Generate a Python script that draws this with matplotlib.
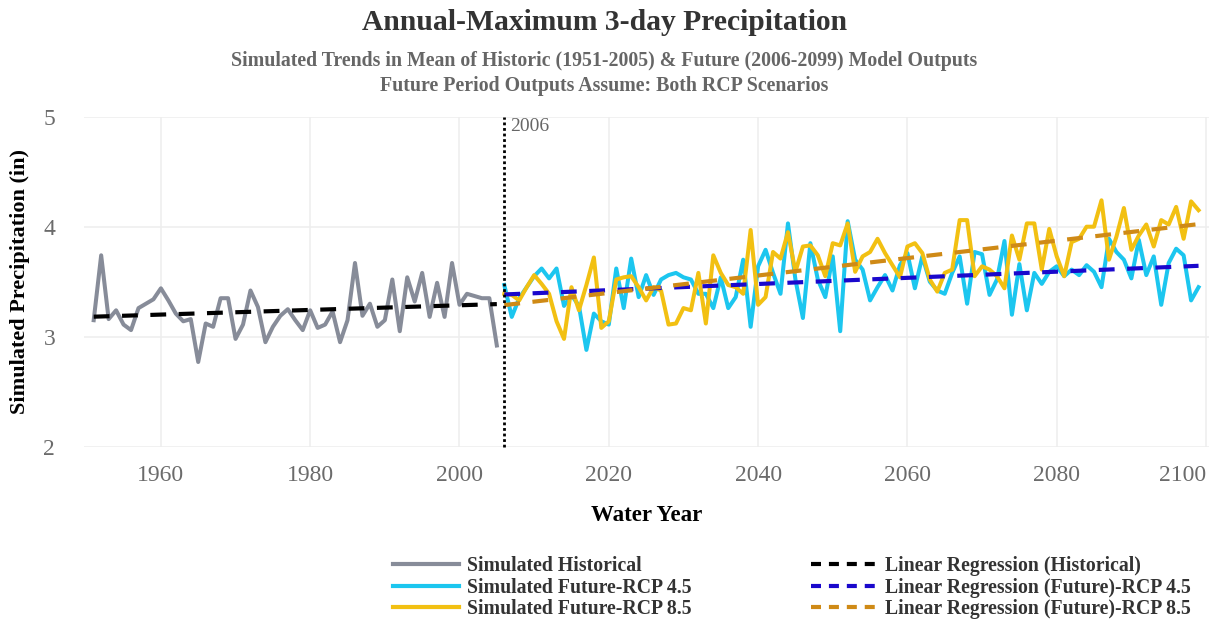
import numpy as np
import matplotlib
matplotlib.use("Agg")
import matplotlib.pyplot as plt
from matplotlib.lines import Line2D

plt.rcParams['font.family'] = ['Liberation Serif', 'DejaVu Serif']

# Simulated annual-maximum 3-day precipitation (inches)
hist_years = list(range(1951, 2006))
hist_vals = [3.15, 3.74, 3.16, 3.24, 3.11, 3.06, 3.26, 3.30, 3.34, 3.44,
             3.33, 3.21, 3.14, 3.16, 2.77, 3.12, 3.09, 3.35, 3.35, 2.98,
             3.11, 3.42, 3.27, 2.95, 3.09, 3.19, 3.25, 3.15, 3.06, 3.24,
             3.08, 3.11, 3.23, 2.95, 3.15, 3.67, 3.19, 3.30, 3.09, 3.15,
             3.52, 3.05, 3.54, 3.32, 3.58, 3.18, 3.49, 3.18, 3.67, 3.29,
             3.39, 3.37, 3.35, 3.35, 2.92]

fut_years = list(range(2006, 2100))
rcp45_vals = [3.47, 3.18, 3.35, 3.45, 3.55, 3.62, 3.53, 3.62, 3.28, 3.38,
              3.28, 2.88, 3.21, 3.14, 3.11, 3.62, 3.26, 3.71, 3.36, 3.56,
              3.38, 3.52, 3.56, 3.58, 3.54, 3.52, 3.39, 3.39, 3.26, 3.54,
              3.26, 3.36, 3.70, 3.09, 3.64, 3.79, 3.58, 3.39, 4.03, 3.52,
              3.17, 3.85, 3.52, 3.36, 3.73, 3.05, 4.05, 3.70, 3.61, 3.33,
              3.45, 3.56, 3.42, 3.65, 3.76, 3.44, 3.73, 3.50, 3.42, 3.39,
              3.58, 3.73, 3.30, 3.77, 3.75, 3.38, 3.52, 3.87, 3.20, 3.66,
              3.24, 3.58, 3.48, 3.59, 3.64, 3.55, 3.61, 3.56, 3.65, 3.59,
              3.45, 3.89, 3.77, 3.70, 3.53, 3.88, 3.56, 3.73, 3.29, 3.67,
              3.80, 3.74, 3.33, 3.45]
rcp85_vals = [3.39, 3.38, 3.33, 3.45, 3.56, 3.48, 3.39, 3.14, 2.98, 3.45,
              3.24, 3.47, 3.72, 3.08, 3.14, 3.52, 3.54, 3.55, 3.45, 3.33,
              3.45, 3.42, 3.11, 3.12, 3.26, 3.24, 3.58, 3.12, 3.74, 3.58,
              3.47, 3.45, 3.39, 3.97, 3.29, 3.36, 3.77, 3.71, 3.95, 3.59,
              3.82, 3.83, 3.74, 3.55, 3.85, 3.83, 4.03, 3.59, 3.73, 3.77,
              3.89, 3.76, 3.65, 3.54, 3.82, 3.85, 3.76, 3.52, 3.41, 3.58,
              3.61, 4.06, 4.06, 3.55, 3.64, 3.61, 3.55, 3.44, 3.92, 3.70,
              4.03, 4.03, 3.61, 3.98, 3.73, 3.55, 3.86, 3.89, 4.00, 4.00,
              4.24, 3.70, 3.91, 4.17, 3.79, 3.92, 4.02, 3.82, 4.06, 4.02,
              4.18, 3.89, 4.23, 4.15]

split_year = 2006
x_ticks = [1960, 1980, 2000, 2020, 2040, 2060, 2080, 2100]
y_ticks = [2, 3, 4, 5]

c_hist = '#878c99'
c_45 = '#1cc6ef'
c_85 = '#f2c012'
c_reg_hist = '#000000'
c_reg_45 = '#1a08cc'
c_reg_85 = '#cf8a16'
tick_col = '#6b6b6b'

W, H = 1209, 620
fig = plt.figure(figsize=(W / 100, H / 100), dpi=100)
ax = fig.add_axes([84 / W, 1 - 446.7 / H, 1 - 84 / W, 330 / H])


def trend(xs, ys):
    xs = np.asarray(xs, float)
    k, b = np.polyfit(xs, np.asarray(ys, float), 1)
    return xs, k * xs + b


lw_data = 2.9
lw_reg = 3.0
dash = (0, (3.8, 3.0))

ax.plot(hist_years, hist_vals, color=c_hist, lw=lw_data, solid_joinstyle='round', zorder=3)
ax.plot(fut_years, rcp45_vals, color=c_45, lw=lw_data, solid_joinstyle='round', zorder=3)
ax.plot(fut_years, rcp85_vals, color=c_85, lw=lw_data, solid_joinstyle='round', zorder=3)

for xs, ys, col in [(hist_years, hist_vals, c_reg_hist),
                    (fut_years, rcp45_vals, c_reg_45),
                    (fut_years, rcp85_vals, c_reg_85)]:
    tx, ty = trend(xs, ys)
    ax.plot(tx, ty, color=col, lw=lw_reg, linestyle=dash, zorder=4)

ax.plot([split_year, split_year], [y_ticks[0], y_ticks[-1]], color='black',
        lw=2.0, linestyle=(0, (1, 1)), zorder=5, clip_on=False)
ax.text(split_year + 0.8, 4.985, str(split_year), ha='left', va='top',
        fontsize=14, color='#666666')

ax.set_xlim(1949.7, 2100.4)
ax.set_ylim(2, 5)
ax.set_xticks(x_ticks)
ax.set_yticks(y_ticks)
ax.grid(True, color='#eeeeee', lw=1.1, zorder=0)
ax.set_axisbelow(True)
for s in ax.spines.values():
    s.set_visible(False)
ax.tick_params(length=0, labelsize=17, labelcolor=tick_col)
ax.tick_params(axis='x', pad=13)
ax.tick_params(axis='y', pad=25)
ax.set_yticklabels([str(v) for v in y_ticks], ha='center')
last = ax.get_xticklabels()[-1]
last.set_ha('right')

ax.set_xlabel('Water Year', fontsize=16.5, fontweight='bold', labelpad=14)
ax.set_ylabel('Simulated Precipitation (in)', fontsize=16, fontweight='bold')
ax.yaxis.set_label_coords((30 - 84) / (W - 84), 0.5)

fig.text(0.5, 1 - 23 / H, 'Annual-Maximum 3-day Precipitation', ha='center', va='center',
         fontsize=21.3, fontweight='bold', color='#333333')
fig.text(0.5, 1 - 61 / H,
         'Simulated Trends in Mean of Historic (1951-2005) & Future (2006-2099) Model Outputs',
         ha='center', va='center', fontsize=14.3, fontweight='bold', color='#666666')
fig.text(0.5, 1 - 86 / H, 'Future Period Outputs Assume: Both RCP Scenarios',
         ha='center', va='center', fontsize=14.3, fontweight='bold', color='#666666')

leg_dash = (0, (2.4, 1.9))
series_handles = [Line2D([], [], color=c, lw=3) for c in (c_hist, c_45, c_85)]
series_labels = ['Simulated Historical', 'Simulated Future-RCP 4.5', 'Simulated Future-RCP 8.5']
reg_handles = [Line2D([], [], color=c, lw=3, linestyle=leg_dash)
               for c in (c_reg_hist, c_reg_45, c_reg_85)]
reg_labels = ['Linear Regression (Historical)', 'Linear Regression (Future)-RCP 4.5',
              'Linear Regression (Future)-RCP 8.5']

leg_kw = dict(loc='upper left', frameon=False, prop={'size': 14.2, 'weight': 'bold'},
              handlelength=3.35, handletextpad=0.4, labelspacing=0.08,
              borderpad=0, borderaxespad=0)
for hs, ls, x0 in [(series_handles, series_labels, 393), (reg_handles, reg_labels, 811)]:
    leg = fig.legend(hs, ls, bbox_to_anchor=(x0 / W, 1 - 556 / H), **leg_kw)
    for t in leg.get_texts():
        t.set_color('#333333')

fig.savefig('out.png', dpi=100)
